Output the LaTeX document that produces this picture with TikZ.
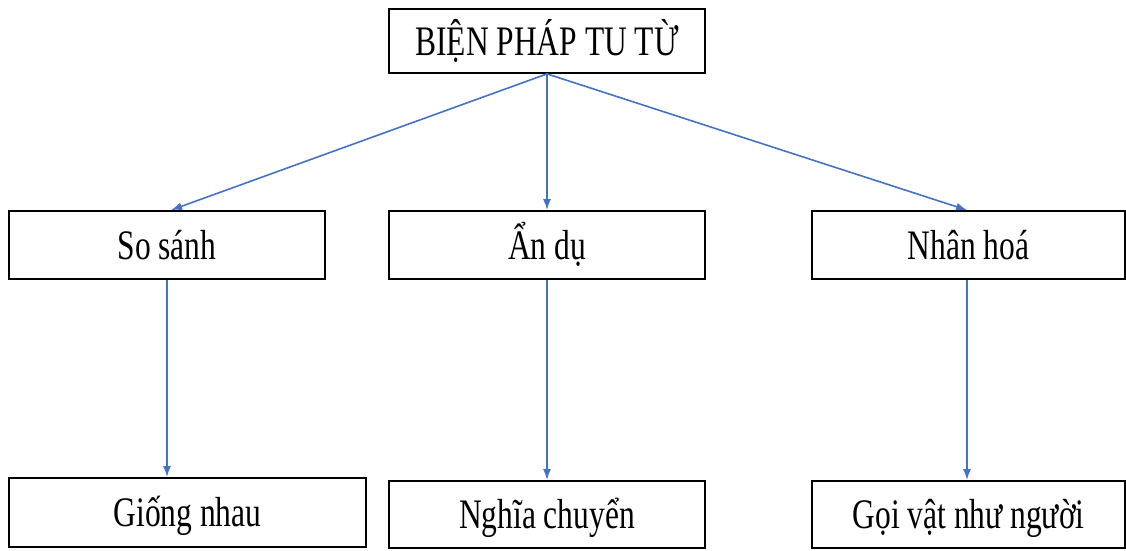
\documentclass[tikz,border=0pt]{standalone}
\usepackage{fontspec}
\setmainfont{Liberation Serif}
\newfontfamily\boxfont[FakeStretch=0.75]{Liberation Serif}
\usetikzlibrary{arrows.meta}
\definecolor{arrowblue}{RGB}{68,114,196}
\tikzset{
  box/.style={draw=black, line width=1.8pt, inner sep=0pt, text height=28pt, text depth=0pt,
    font=\boxfont\fontsize{42}{48}\selectfont},
  link/.style={draw=arrowblue, line width=1.6pt, -{Latex[length=11pt,width=8pt]}}
}
\begin{document}
\begin{tikzpicture}[x=1pt,y=-1pt]
\useasboundingbox (0,0) rectangle (1126,550);
\node[box, minimum width=316pt, minimum height=64pt] (top) at (547,41) {BIỆN PHÁP TU TỪ};
\node[box, minimum width=316pt, minimum height=68pt] (so) at (167,245) {So sánh};
\node[box, minimum width=316pt, minimum height=68pt] (an) at (547,245) {Ẩn dụ};
\node[box, minimum width=313pt, minimum height=68pt] (nh) at (968.5,245) {Nhân hoá};
\node[box, minimum width=357pt, minimum height=69pt] (gi) at (187.5,512.5) {Giống nhau};
\node[box, minimum width=316pt, minimum height=67pt] (ng) at (547,514.5) {Nghĩa chuyển};
\node[box, minimum width=313pt, minimum height=67pt] (go) at (968.5,514.5) {Gọi vật như người};
\draw[link] (top.south) -- ([xshift=4pt]so.north);
\draw[link] (top.south) -- (an.north);
\draw[link] (top.south) -- ([xshift=-1.5pt]nh.north);
\draw[link] (so.south) -- (so.south |- gi.north);
\draw[link] (an.south) -- (ng.north);
\draw[link] ([xshift=-1.5pt]nh.south) -- ([xshift=-1.5pt]go.north);
\end{tikzpicture}
\end{document}
